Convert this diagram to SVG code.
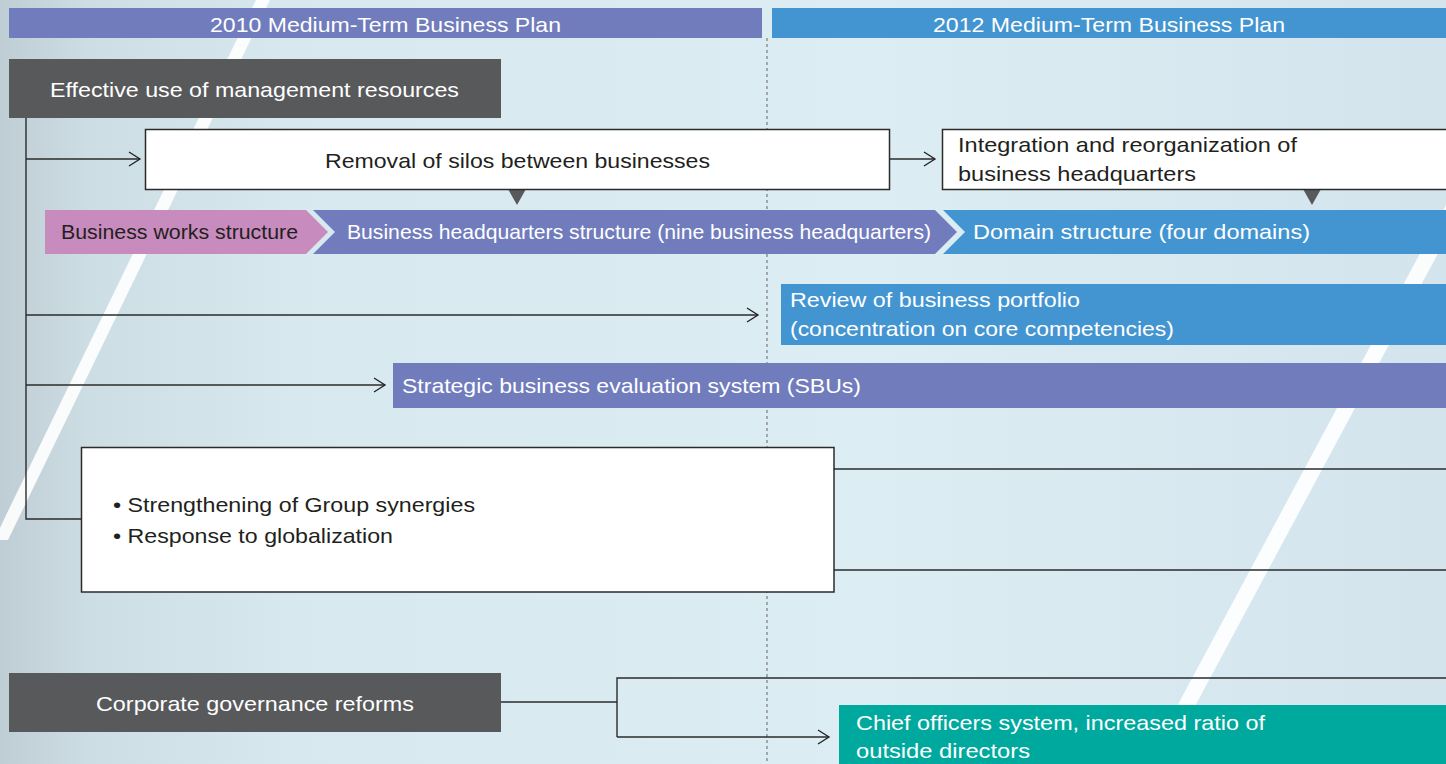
<svg xmlns="http://www.w3.org/2000/svg" width="1446" height="764" viewBox="0 0 1446 764">
  <defs>
    <linearGradient id="bg" x1="0" y1="0" x2="1" y2="0">
      <stop offset="0" stop-color="#bfcdd4"/>
      <stop offset="0.06" stop-color="#cddde4"/>
      <stop offset="0.2" stop-color="#d7e8ef"/>
      <stop offset="0.6" stop-color="#dcedf4"/>
      <stop offset="1" stop-color="#d3e4ec"/>
    </linearGradient>
    <marker id="arr" markerUnits="userSpaceOnUse" markerWidth="16" markerHeight="18" refX="12" refY="8" orient="auto" viewBox="0 0 16 18">
      <path d="M1,1 L12,8 L1,15" fill="none" stroke="#231f20" stroke-width="1.3"/>
    </marker>
    <style>
      .t { font-family: "Liberation Sans", Arial, sans-serif; font-size: 21px; }
      .w { fill: #ffffff; }
      .d { fill: #231f20; }
      .conn { fill: none; stroke: #2b2b2b; stroke-width: 1.4; }
      .box { fill: #ffffff; stroke: #2b2b2b; stroke-width: 1.5; }
      .dark { fill: #58595b; }
      .purple { fill: #717cbd; }
      .blue { fill: #4295d1; }
      .pink { fill: #c88bbd; }
      .teal { fill: #00a99d; }
    </style>
  </defs>

  <!-- background -->
  <rect x="0" y="0" width="1446" height="764" fill="url(#bg)"/>
  <polygon points="256,0 270,0 8,540 -6,540" fill="#ffffff" opacity="0.9"/>
  <polygon points="1556,0 1574,0 1164,764 1146,764" fill="#ffffff" opacity="0.9"/>
  <line x1="767" y1="38" x2="767" y2="764" stroke="#7a7a7a" stroke-width="1.2" stroke-dasharray="3,3"/>

  <!-- headers -->
  <g id="header-2010">
    <rect x="9" y="8" width="753" height="30" class="purple"/>
    <text x="210" y="32" class="t w" textLength="351" lengthAdjust="spacingAndGlyphs">2010 Medium-Term Business Plan</text>
  </g>
  <g id="header-2012">
    <rect x="772" y="8" width="674" height="30" class="blue"/>
    <text x="933" y="32" class="t w" textLength="352" lengthAdjust="spacingAndGlyphs">2012 Medium-Term Business Plan</text>
  </g>

  <!-- connectors -->
  <g id="connectors">
    <polyline points="26,118 26,519 81,519" class="conn"/>
    <line x1="26" y1="159" x2="140" y2="159" class="conn" marker-end="url(#arr)"/>
    <line x1="889" y1="159" x2="935" y2="159" class="conn" marker-end="url(#arr)"/>
    <line x1="26" y1="315" x2="758" y2="315" class="conn" marker-end="url(#arr)"/>
    <line x1="26" y1="385" x2="385" y2="385" class="conn" marker-end="url(#arr)"/>
    <line x1="834" y1="469" x2="1446" y2="469" class="conn" stroke-width="1.8"/>
    <line x1="834" y1="570" x2="1446" y2="570" class="conn" stroke-width="1.8"/>
    <line x1="501" y1="702" x2="617" y2="702" class="conn"/>
    <polyline points="1446,678 617,678 617,737" class="conn"/>
    <line x1="617" y1="737" x2="829" y2="737" class="conn" marker-end="url(#arr)"/>
    <polygon points="508,189 526,189 517,205" class="dark"/>
    <polygon points="1303,189 1321,189 1312,205" class="dark"/>
  </g>

  <g id="effective-use">
    <rect x="9" y="59" width="492" height="59" class="dark"/>
    <text x="50" y="97" class="t w" textLength="409" lengthAdjust="spacingAndGlyphs">Effective use of management resources</text>
  </g>

  <g id="removal-silos">
    <rect x="145.5" y="129.5" width="744" height="60" class="box"/>
    <text x="325" y="168" class="t d" textLength="385" lengthAdjust="spacingAndGlyphs">Removal of silos between businesses</text>
  </g>

  <g id="integration">
    <rect x="942.5" y="129.5" width="510" height="60" class="box"/>
    <text x="958" y="152" class="t d" textLength="339" lengthAdjust="spacingAndGlyphs">Integration and reorganization of</text>
    <text x="958" y="181" class="t d" textLength="238" lengthAdjust="spacingAndGlyphs">business headquarters</text>
  </g>

  <g id="business-works">
    <polygon points="45,210 306,210 328,232 306,254 45,254" class="pink"/>
    <text x="61" y="239" class="t d" textLength="237" lengthAdjust="spacingAndGlyphs">Business works structure</text>
  </g>

  <g id="business-hq">
    <polygon points="313,210 935,210 957,232 935,254 313,254 335,232" class="purple"/>
    <text x="347" y="239" class="t w" textLength="584" lengthAdjust="spacingAndGlyphs">Business headquarters structure (nine business headquarters)</text>
  </g>

  <g id="domain">
    <polygon points="943,210 1446,210 1446,254 943,254 965,232" class="blue"/>
    <text x="973" y="239" class="t w" textLength="337" lengthAdjust="spacingAndGlyphs">Domain structure (four domains)</text>
  </g>

  <g id="review-portfolio">
    <rect x="781" y="284" width="665" height="61" class="blue"/>
    <text x="790" y="307" class="t w" textLength="290" lengthAdjust="spacingAndGlyphs">Review of business portfolio</text>
    <text x="790" y="336" class="t w" textLength="384" lengthAdjust="spacingAndGlyphs">(concentration on core competencies)</text>
  </g>

  <g id="sbu">
    <rect x="393" y="363" width="1053" height="45" class="purple"/>
    <text x="402" y="393" class="t w" textLength="459" lengthAdjust="spacingAndGlyphs">Strategic business evaluation system (SBUs)</text>
  </g>

  <g id="synergies">
    <rect x="81.5" y="447.5" width="752.5" height="144.5" class="box"/>
    <text x="113" y="512" class="t d" textLength="362" lengthAdjust="spacingAndGlyphs">• Strengthening of Group synergies</text>
    <text x="113" y="543" class="t d" textLength="280" lengthAdjust="spacingAndGlyphs">• Response to globalization</text>
  </g>

  <g id="governance">
    <rect x="9" y="673" width="492" height="59" class="dark"/>
    <text x="96" y="711" class="t w" textLength="318" lengthAdjust="spacingAndGlyphs">Corporate governance reforms</text>
  </g>

  <g id="chief-officers">
    <rect x="839" y="705" width="607" height="59" class="teal"/>
    <text x="856" y="730" class="t w" textLength="409" lengthAdjust="spacingAndGlyphs">Chief officers system, increased ratio of</text>
    <text x="856" y="758" class="t w" textLength="174" lengthAdjust="spacingAndGlyphs">outside directors</text>
  </g>
</svg>
